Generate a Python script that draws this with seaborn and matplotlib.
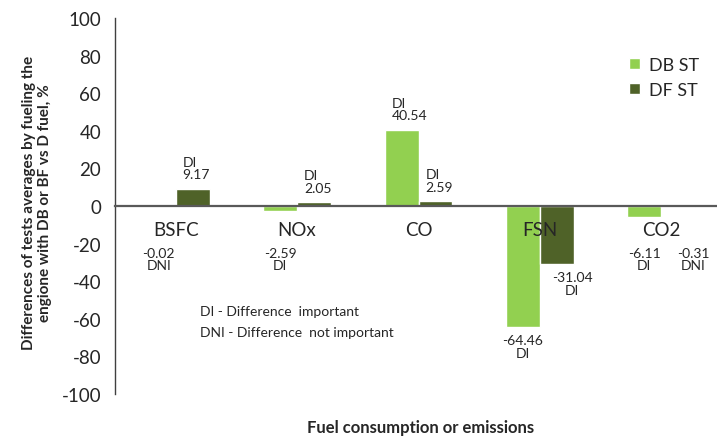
import numpy as np
import pandas as pd
import matplotlib
matplotlib.use("Agg")
import matplotlib.pyplot as plt
import seaborn as sns

categories = ["BSFC", "NOx", "CO", "FSN", "CO2"]
series = ["DB ST", "DF ST"]
db_values = [-0.02, -2.59, 40.54, -64.46, -6.11]
df_values = [9.17, 2.05, 2.59, -31.04, -0.31]
db_flags = ["DNI", "DI", "DI", "DI", "DI"]
df_flags = ["DI", "DI", "DI", "DI", "DNI"]
yticks = [-100, -80, -60, -40, -20, 0, 20, 40, 60, 80, 100]

data = pd.DataFrame({
    "cat": categories * 2,
    "series": [series[0]] * 5 + [series[1]] * 5,
    "value": db_values + df_values,
})

sns.set_style("white")
plt.rcParams["font.family"] = ["Lato", "DejaVu Sans"]
plt.rcParams["axes.unicode_minus"] = False

fig = plt.figure(figsize=(7.17, 4.39), dpi=100)
ax = fig.add_axes([115 / 717, 1 - 395 / 439, 607 / 717, 376 / 439])

sns.barplot(data=data, x="cat", y="value", hue="series", order=categories,
            hue_order=series, palette=["#92D050", "#4F6228"], width=0.56,
            saturation=1, ax=ax)

ax.set_axisbelow(False)
ax.set_ylim(-100, 100)
ax.set_xlim(-0.5, 4.5)
ax.set_yticks(yticks)
ax.set_xlabel("")
ax.set_ylabel("")

# x axis sits on the zero line
for s in ["top", "right"]:
    ax.spines[s].set_visible(False)
ax.spines["bottom"].set_position(("data", 0))
ax.spines["bottom"].set_color("#595959")
ax.spines["bottom"].set_linewidth(1.6)
ax.spines["left"].set_color("#404040")
ax.spines["left"].set_linewidth(1.0)

ax.set_xticks(range(5))
ax.set_xticklabels(categories, fontsize=13.5)
ax.tick_params(axis="x", length=0, pad=11)
ax.set_xticks([0.5, 1.5, 2.5, 3.5], minor=True)
ax.tick_params(axis="x", which="minor", length=5, width=1.2, color="#404040",
               direction="out")
ax.tick_params(axis="y", labelsize=13.5, length=5, width=1, color="#404040",
               direction="out", pad=5)

# value labels
bars = ax.patches[:10]
values = db_values + df_values
flags = db_flags + df_flags
for i, (p, v, f) in enumerate(zip(bars, values, flags)):
    cx = p.get_x() + p.get_width() / 2
    if v > 0:
        ax.annotate(f"{f}\n{v:.2f}", xy=(p.get_x(), v), xytext=(5, 6),
                    textcoords="offset points", ha="left", va="bottom",
                    fontsize=10, linespacing=1.05, color="#262626")
    else:
        dx = 11 if i >= 5 and i % 5 >= 3 else 0
        ax.annotate(f"{v:.2f}\n{f}", xy=(cx, min(v, -18)), xytext=(dx, -5),
                    textcoords="offset points", ha="center", va="top",
                    fontsize=10, linespacing=1.05, color="#262626")

ax.text(0.2, -58, "DI - Difference  important", fontsize=10, color="#262626")
ax.text(0.2, -69, "DNI - Difference  not important", fontsize=10, color="#262626")

handles, labels = ax.get_legend_handles_labels()
ax.legend(handles, labels, loc="upper left", bbox_to_anchor=(0.82, 0.94),
          frameon=False, fontsize=13, handlelength=0.6, handleheight=0.6,
          handletextpad=0.5, labelspacing=0.5)

fig.text(37 / 717, 1 - 203 / 439,
         "Differences of tests averages by fueling the\nengione with DB or BF vs D fuel, %",
         rotation=90, ha="center", va="center", fontsize=11, fontweight="bold",
         linespacing=1.15)
fig.text(421 / 717, 1 - 428 / 439, "Fuel consumption or emissions",
         ha="center", va="center", fontsize=12, fontweight="bold")

fig.savefig("out.png", dpi=100)
